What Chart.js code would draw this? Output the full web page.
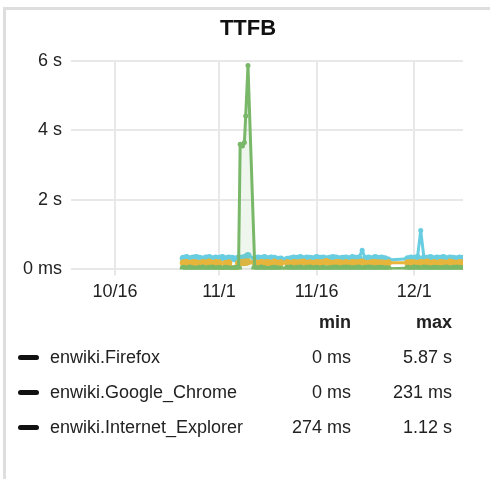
<!DOCTYPE html>
<html>
<head>
<meta charset="utf-8">
<script src="https://cdn.jsdelivr.net/npm/chart.js@4"></script>
<style>
  body { margin: 0; background: #fff; font-family: "Liberation Sans", Arial, Helvetica, sans-serif; }
  #frame { position: absolute; left: 3px; top: 7px; width: 600px; height: 600px; border-top: 3px solid #dedede; border-left: 3px solid #dedede; }
  #grafico { position: absolute; left: 0; top: 0; }
  #titulo { position: absolute; left: 0; top: 15px; width: 496px; text-align: center; font-size: 22px; line-height: 26px; font-weight: bold; color: #111; }
  .linha { position: absolute; left: 0; width: 490px; height: 22px; line-height: 22px; font-size: 18px; color: #222; }
  .linha span { position: absolute; top: 0; white-space: nowrap; }
  .marca { position: absolute; left: 18px; top: 9px; width: 21px; height: 5px; border-radius: 3px; background: #111; }
  .nome { left: 50px; }
  .min { right: 139px; text-align: right; }
  .max { right: 38px; text-align: right; }
  .cab { font-weight: bold; }
</style>
</head>
<body>
<div id="frame"></div>
<canvas id="grafico" width="490" height="313"></canvas>
<div id="titulo">TTFB</div>
<div id="legenda"></div>
<script>
// dias contados a partir de 1/10 (dia 0 = 10/1)
const dias = [
  25.5, 26, 26.5, 27, 27.5, 28, 28.5, 29, 29.5, 30, 30.5, 31, 31.5, 32, 32.5, 33, 33.5, 34,
  34.25, 34.6, 34.9, 35.1, 35.45,
  36.5, 37, 37.5, 38, 38.5, 39, 39.5, 40, 40.5,
  41.5, 42, 42.5, 43, 43.5, 44, 44.5, 45, 45.5, 46, 46.5, 47, 47.5, 48, 48.5, 49,
  49.5, 50, 50.5, 51, 51.5, 52, 52.5, 53, 53.5, 54, 54.5, 55, 55.5, 56, 56.5, 57,
  60, 60.5, 61, 61.5, 62, 62.5, 63, 63.5, 64, 64.5, 65, 65.5, 66, 66.5, 67, 67.5, 68, 68.5
];

// valores em segundos
const firefox = [
  0.03, 0.02, 0.04, 0.02, 0.01, 0.03, 0.04, 0.02, 0.03, 0.04, 0.02, 0.03, 0.01, 0.03, 0.02, 0.01, 0.03, 0.02,
  3.6, 3.55, 3.65, 4.42, 5.87,
  0.03, 0.02, 0.04, 0.02, 0, 0.02, 0.03, 0.02, 0.01,
  0.03, 0.04, 0.02, 0.03, 0.04, 0.02, 0.03, 0.04, 0.02, 0.03, 0.01, 0.03, 0.02, 0.02, 0.03, 0.04,
  0.02, 0.03, 0.04, 0.03, 0.02, 0.03, 0.04, 0.02, 0.03, 0.04, 0.03, 0.02, 0.03, 0.03, 0.02, 0.02,
  0.03, 0.02, 0.04, 0.03, 0.02, 0.04, 0.03, 0.02, 0.03, 0.03, 0.02, 0.03, 0.04, 0.02, 0.03, 0.04, 0.03, 0.02
];

const chrome = [
  0.19, 0.2, 0.18, 0.2, 0.19, 0.17, 0.2, 0.19, 0.21, 0.18, 0.2, 0.19, 0, 0.17, 0.19, 0.02, 0, 0.18,
  0.2, 0.19, 0.21, 0.2, 0.22,
  0.2, 0.18, 0.2, 0.19, 0.2, 0.18, 0.21, 0.18, 0.19,
  0.2, 0.18, 0.2, 0.19, 0.2, 0.21, 0.18, 0.19, 0.18, 0.2, 0.19, 0.2, 0.231, 0.19, 0.18, 0.2,
  0.2, 0.18, 0.2, 0.18, 0.2, 0.19, 0.2, 0.21, 0.18, 0.18, 0.2, 0.2, 0.19, 0.19, 0.18, 0.19,
  0.19, 0.2, 0.19, 0.18, 0.2, 0.19, 0.21, 0.18, 0.2, 0.18, 0.2, 0.19, 0.18, 0.21, 0.19, 0.18, 0.2, 0.19
];

const explorer = [
  0.32, 0.34, 0.31, 0.33, 0.34, 0.32, 0.3, 0.33, 0.34, 0.31, 0.33, 0.32, 0.34, 0.31, 0.33, 0.32, 0.3, 0.33,
  0.32, 0.33, 0.32, 0.36, 0.4,
  0.31, 0.33, 0.32, 0.34, 0.31, 0.33, 0.32, 0.29, 0.3,
  0.29, 0.31, 0.33, 0.32, 0.34, 0.31, 0.33, 0.32, 0.31, 0.34, 0.32, 0.33, 0.31, 0.32, 0.34, 0.33,
  0.31, 0.32, 0.33, 0.31, 0.34, 0.32, 0.33, 0.55, 0.31, 0.33, 0.31, 0.34, 0.32, 0.33, 0.31, 0.274,
  0.31, 0.33, 0.32, 0.34, 1.12, 0.33, 0.32, 0.34, 0.31, 0.33, 0.32, 0.34, 0.31, 0.33, 0.32, 0.31, 0.33, 0.32
];

const nomes = ["enwiki.Firefox", "enwiki.Google_Chrome", "enwiki.Internet_Explorer"];
const cores = ["#79b769", "#e8b53c", "#68cde0"];

// ticks do eixo x
const diasTicks = [15, 31, 46, 61];
const rotulosTicks = ["10/16", "11/1", "11/16", "12/1"];

const fonte = "'Liberation Sans', Arial, Helvetica, sans-serif";

function formatar(v) {
    if (v < 1) return Math.round(v * 1000) + " ms";
    return v.toFixed(2) + " s";
}

function pontos(lista) {
    return dias.map((d, i) => ({ x: d, y: lista[i] }));
}

const series = [firefox, chrome, explorer];

const ctx = document.getElementById("grafico").getContext("2d");

const grafico = new Chart(ctx, {
    type: "line",
    data: {
        datasets: series.map((s, i) => ({
            label: nomes[i],
            data: pontos(s),
            borderColor: cores[i],
            backgroundColor: i === 0 ? "rgba(121, 183, 105, 0.12)" : cores[i],
            pointBackgroundColor: cores[i],
            pointBorderWidth: 0,
            // pontos isolados (picos) ficam menores, a faixa perto do zero fica cheia
            pointRadius: c => (c.raw && c.raw.y > 0.5 ? 2.5 : 3.5),
            borderWidth: 3,
            borderJoinStyle: "round",
            tension: 0,
            fill: i === 0 ? "origin" : false
        }))
    },
    options: {
        responsive: false,
        animation: false,
        layout: { padding: { left: 14, right: 27, top: 61, bottom: 4 } },
        plugins: {
            legend: { display: false },
            tooltip: { enabled: false },
            title: { display: false }
        },
        scales: {
            x: {
                type: "linear",
                min: 8.25,
                max: 68.5,
                afterBuildTicks: function (escala) {
                    escala.ticks = diasTicks.map(v => ({ value: v }));
                },
                grid: { color: "#e8e8e8", lineWidth: 2, tickLength: 6 },
                border: { display: false },
                ticks: {
                    autoSkip: false,
                    maxRotation: 0,
                    padding: 6,
                    color: "#222",
                    font: { family: fonte, size: 18 },
                    callback: function (valor) {
                        return rotulosTicks[diasTicks.indexOf(valor)];
                    }
                }
            },
            y: {
                min: 0,
                max: 6,
                grid: { color: "#e8e8e8", lineWidth: 2, drawTicks: false },
                border: { display: false },
                ticks: {
                    stepSize: 2,
                    padding: 9,
                    color: "#222",
                    font: { family: fonte, size: 18 },
                    callback: function (valor) {
                        return valor === 0 ? "0 ms" : valor + " s";
                    }
                }
            }
        }
    }
});

// legenda com min e max
const legenda = document.getElementById("legenda");
let html = '<div class="linha cab" style="top:311px"><span class="min">min</span><span class="max">max</span></div>';
series.forEach((s, i) => {
    const topo = 346 + i * 35;
    html += '<div class="linha" style="top:' + topo + 'px">' +
        '<div class="marca"></div>' +
        '<span class="nome">' + nomes[i] + '</span>' +
        '<span class="min">' + formatar(Math.min(...s)) + '</span>' +
        '<span class="max">' + formatar(Math.max(...s)) + '</span>' +
        '</div>';
});
legenda.innerHTML = html;
</script>
</body>
</html>
